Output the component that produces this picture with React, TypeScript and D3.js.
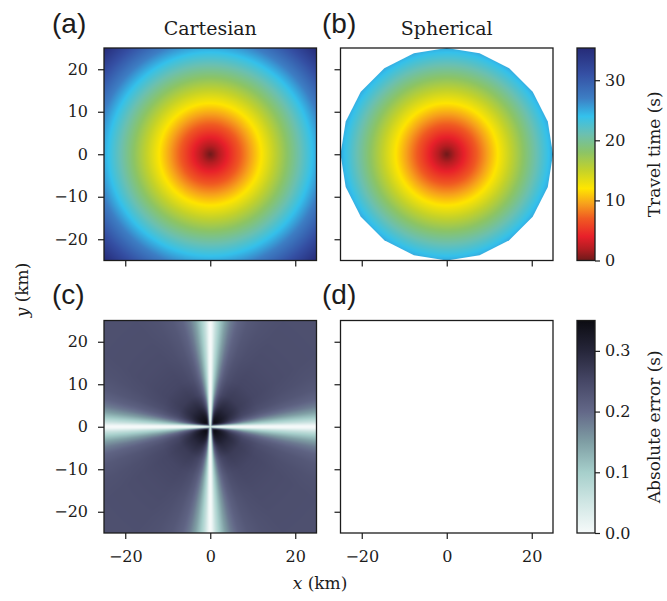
import { useEffect, useMemo, useRef } from "react";
import * as d3 from "d3";

// --- data ---
const extentKm = [-25, 25];
const yTicksKm = [-20, -10, 0, 10, 20];
const xTicksKm = [-20, 0, 20];
const velocityKmS = 1.0;
const sphereRadiusKm = 25;
const sphereSides = 20;

const timeStops = [0, 2, 4, 7, 9.5, 12, 15, 18, 21, 24, 27, 31, 35.36];
const timeColors = [
  "#6e1a1a", "#b51d22", "#e8202a", "#f05a22", "#f7a21c", "#ffe600", "#c4d22a",
  "#8cc466", "#6cc0b0", "#34c1ec", "#3d7ec4", "#3550a4", "#262b78",
];
const timeTicks = [0, 10, 20, 30];

const errStops = [0, 0.05, 0.1, 0.15, 0.2, 0.25, 0.3, 0.35];
const errColors = ["#f6fafa", "#d0e6e4", "#a6cfcb", "#7f9ea4", "#636888", "#464766", "#26263a", "#0c0c12"];
const errTicks = [0, 0.1, 0.2, 0.3];

// error: angular shape (degrees away from nearest axis) times radial peak,
// damped in a thin strip along the axes
const errAngleDeg = [0, 0.6, 1.5, 3, 5, 8, 11, 15, 20, 27, 35, 45];
const errAngleShape = [0, 0.04, 0.12, 0.27, 0.43, 0.62, 0.76, 0.87, 0.94, 0.98, 1, 1];
const errRadiusKm = [0, 1.5, 3, 5, 8, 12, 18, 25, 36];
const errRadiusPeak = [0.35, 0.345, 0.325, 0.295, 0.265, 0.25, 0.242, 0.238, 0.236];
const errAxisDistKm = [0, 0.25, 0.5, 0.8];
const errAxisFactor = [0, 0.35, 0.8, 1];

const W = 667, H = 601;
const serif = "'DejaVu Serif', serif";
const sans = "'Liberation Sans', Arial, sans-serif";
const ink = "#1c1c1c";

const colL = [104, 316.5], colR = [340.5, 553];
const rowT = [260.5, 48], rowB = [533, 320.5];
const cbX = 577, cbW = 18;

function paintField(xs, ys, valueAt, color) {
  const [px0, px1] = xs.range();
  const [py1, py0] = ys.range();
  const w = Math.round(px1 - px0) * 2, h = Math.round(py1 - py0) * 2;
  const canvas = document.createElement("canvas");
  canvas.width = w;
  canvas.height = h;
  const ctx = canvas.getContext("2d");
  const img = ctx.createImageData(w, h);
  for (let j = 0; j < h; j++) {
    const yk = ys.invert(py0 + ((j + 0.5) * (py1 - py0)) / h);
    for (let i = 0; i < w; i++) {
      const xk = xs.invert(px0 + ((i + 0.5) * (px1 - px0)) / w);
      const c = d3.rgb(color(valueAt(xk, yk)));
      const k = (j * w + i) * 4;
      img.data[k] = c.r;
      img.data[k + 1] = c.g;
      img.data[k + 2] = c.b;
      img.data[k + 3] = 255;
    }
  }
  ctx.putImageData(img, 0, 0);
  return { href: canvas.toDataURL(), x: px0, y: py0, w: px1 - px0, h: py1 - py0 };
}

function Axis({ scale, orient, ticks, labels, format, transform, pad, size = 6 }) {
  const ref = useRef(null);
  useEffect(() => {
    const ax =
      orient === "left" ? d3.axisLeft(scale) : orient === "right" ? d3.axisRight(scale) : d3.axisBottom(scale);
    ax.tickValues(ticks).tickSize(size).tickPadding(pad).tickFormat(labels ? format : () => "");
    const g = d3.select(ref.current).call(ax);
    g.select(".domain").remove();
    g.attr("font-family", null).attr("font-size", null);
    g.selectAll(".tick line").attr("stroke", ink).attr("stroke-width", 1.2);
    g.selectAll(".tick text")
      .attr("fill", ink)
      .style("font-family", serif)
      .style("font-size", "16px");
  }, [scale, orient, ticks, labels]);
  return <g ref={ref} transform={transform} />;
}

export default function App() {
  const xL = d3.scaleLinear().domain(extentKm).range(colL);
  const xR = d3.scaleLinear().domain(extentKm).range(colR);
  const yT = d3.scaleLinear().domain(extentKm).range(rowT);
  const yB = d3.scaleLinear().domain(extentKm).range(rowB);

  const tMax = timeStops[timeStops.length - 1];
  const eMax = errStops[errStops.length - 1];
  const cbT = d3.scaleLinear().domain([0, tMax]).range(rowT);
  const cbE = d3.scaleLinear().domain([0, eMax]).range(rowB);

  const images = useMemo(() => {
    const timeColor = d3.scaleLinear<string>().domain(timeStops).range(timeColors).clamp(true);
    const errColor = d3.scaleLinear<string>().domain(errStops).range(errColors).clamp(true);
    const shape = d3.scaleLinear().domain(errAngleDeg).range(errAngleShape).clamp(true);
    const peak = d3.scaleLinear().domain(errRadiusKm).range(errRadiusPeak).clamp(true);
    const strip = d3.scaleLinear().domain(errAxisDistKm).range(errAxisFactor).clamp(true);
    const travel = (x, y) => Math.hypot(x, y) / velocityKmS;
    const err = (x, y) => {
      const ax = Math.abs(x), ay = Math.abs(y);
      const th = (Math.atan2(ay, ax) * 180) / Math.PI;
      const phi = Math.min(th, 90 - th);
      return shape(phi) * peak(Math.hypot(x, y)) * strip(Math.min(ax, ay));
    };
    return {
      a: paintField(xL, yT, travel, timeColor),
      b: paintField(xR, yT, travel, timeColor),
      c: paintField(xL, yB, err, errColor),
    };
  }, []);

  const spherePath = d3.line().curve(d3.curveLinearClosed)(
    d3.range(sphereSides).map((i) => {
      const a = (2 * Math.PI * i) / sphereSides;
      return [xR(sphereRadiusKm * Math.cos(a)), yT(sphereRadiusKm * Math.sin(a))];
    })
  );

  const fmtInt = d3.format("d");
  const fmtErr = d3.format(".1f");

  const frame = (xs, ys) => (
    <rect
      x={xs.range()[0]}
      y={ys.range()[1]}
      width={xs.range()[1] - xs.range()[0]}
      height={ys.range()[0] - ys.range()[1]}
      fill="none"
      stroke={ink}
      strokeWidth={1.3}
    />
  );

  const img = (m, clip?) => (
    <image href={m.href} x={m.x} y={m.y} width={m.w} height={m.h} preserveAspectRatio="none" clipPath={clip} />
  );

  return (
    <svg width={W} height={H} style={{ position: "absolute", left: 0, top: 0, background: "#fff" }}>
      <defs>
        <clipPath id="sphere">
          <path d={spherePath} />
        </clipPath>
        <linearGradient id="gradTime" x1="0" y1="1" x2="0" y2="0">
          {timeStops.map((s, i) => (
            <stop key={i} offset={s / tMax} stopColor={timeColors[i]} />
          ))}
        </linearGradient>
        <linearGradient id="gradErr" x1="0" y1="1" x2="0" y2="0">
          {errStops.map((s, i) => (
            <stop key={i} offset={s / eMax} stopColor={errColors[i]} />
          ))}
        </linearGradient>
      </defs>

      {img(images.a)}
      {img(images.b, "url(#sphere)")}
      {img(images.c)}

      {frame(xL, yT)}
      {frame(xR, yT)}
      {frame(xL, yB)}
      {frame(xR, yB)}

      <Axis scale={yT} orient="left" ticks={yTicksKm} labels format={fmtInt} pad={10} transform={`translate(${colL[0]},0)`} />
      <Axis scale={yB} orient="left" ticks={yTicksKm} labels format={fmtInt} pad={10} transform={`translate(${colL[0]},0)`} />
      <Axis scale={yT} orient="left" ticks={yTicksKm} labels={false} format={fmtInt} pad={10} transform={`translate(${colR[0]},0)`} />
      <Axis scale={yB} orient="left" ticks={yTicksKm} labels={false} format={fmtInt} pad={10} transform={`translate(${colR[0]},0)`} />
      <Axis scale={xL} orient="bottom" ticks={xTicksKm} labels={false} format={fmtInt} pad={12} transform={`translate(0,${rowT[0]})`} />
      <Axis scale={xR} orient="bottom" ticks={xTicksKm} labels={false} format={fmtInt} pad={12} transform={`translate(0,${rowT[0]})`} />
      <Axis scale={xL} orient="bottom" ticks={xTicksKm} labels format={fmtInt} pad={12} transform={`translate(0,${rowB[0]})`} />
      <Axis scale={xR} orient="bottom" ticks={xTicksKm} labels format={fmtInt} pad={12} transform={`translate(0,${rowB[0]})`} />

      {/* colorbars */}
      <rect x={cbX} y={rowT[1]} width={cbW} height={rowT[0] - rowT[1]} fill="url(#gradTime)" stroke={ink} strokeWidth={1.3} />
      <rect x={cbX} y={rowB[1]} width={cbW} height={rowB[0] - rowB[1]} fill="url(#gradErr)" stroke={ink} strokeWidth={1.3} />
      <Axis scale={cbT} orient="right" ticks={timeTicks} labels format={fmtInt} pad={5} size={5} transform={`translate(${cbX + cbW},0)`} />
      <Axis scale={cbE} orient="right" ticks={errTicks} labels format={fmtErr} pad={5} size={5} transform={`translate(${cbX + cbW},0)`} />

      <text transform={`translate(660,${(rowT[0] + rowT[1]) / 2}) rotate(-90)`} textAnchor="middle" fontFamily={serif} fontSize={17} fill={ink}>
        Travel time (s)
      </text>
      <text transform={`translate(660,${(rowB[0] + rowB[1]) / 2}) rotate(-90)`} textAnchor="middle" fontFamily={serif} fontSize={17} fill={ink}>
        Absolute error (s)
      </text>

      {/* titles and panel letters */}
      <text x={(colL[0] + colL[1]) / 2} y={35} textAnchor="middle" fontFamily={serif} fontSize={19} fill={ink}>
        Cartesian
      </text>
      <text x={(colR[0] + colR[1]) / 2} y={35} textAnchor="middle" fontFamily={serif} fontSize={19} fill={ink}>
        Spherical
      </text>
      <text x={52} y={33} fontFamily={sans} fontSize={28} fill={ink}>(a)</text>
      <text x={322} y={33} fontFamily={sans} fontSize={28} fill={ink}>(b)</text>
      <text x={52} y={304} fontFamily={sans} fontSize={28} fill={ink}>(c)</text>
      <text x={322} y={304} fontFamily={sans} fontSize={28} fill={ink}>(d)</text>

      <text x={320} y={589} textAnchor="middle" fontFamily={serif} fontSize={17} fill={ink}>
        <tspan fontStyle="italic">x</tspan> (km)
      </text>
      <text transform={`translate(28,290) rotate(-90)`} textAnchor="middle" fontFamily={serif} fontSize={17} fill={ink}>
        <tspan fontStyle="italic">y</tspan> (km)
      </text>
    </svg>
  );
}
